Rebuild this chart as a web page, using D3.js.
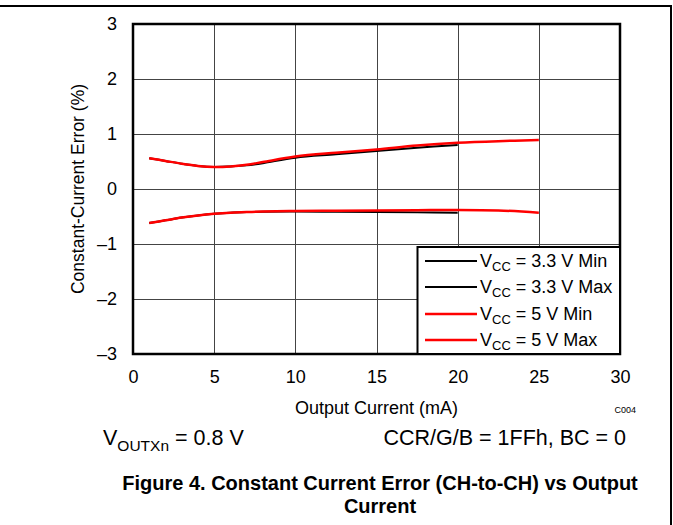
<!DOCTYPE html>
<html>
<head>
<meta charset="utf-8">
<script src="https://cdn.jsdelivr.net/npm/d3@7"></script>
<style>
  html, body { margin: 0; padding: 0; background: #fff; }
  svg { display: block; font-family: "Liberation Sans", Arial, sans-serif; }
</style>
</head>
<body>
<svg id="chart" width="673" height="525"></svg>
<script>
// Output current (mA) sample points for each curve
const current33 = [1, 2, 3, 4, 5, 6, 7, 8, 10, 12.5, 15, 17.5, 20];
const current5  = [1, 2, 3, 4, 5, 6, 7, 8, 10, 12.5, 15, 17.5, 20, 22.5, 25];

// Constant-current error (%) per series
const vcc33Min = [-0.62, -0.57, -0.52, -0.48, -0.45, -0.43, -0.42, -0.415, -0.41, -0.415, -0.42, -0.425, -0.43];
const vcc33Max = [0.56, 0.51, 0.46, 0.42, 0.40, 0.41, 0.43, 0.47, 0.57, 0.63, 0.69, 0.75, 0.80];
const vcc5Min  = [-0.62, -0.57, -0.52, -0.48, -0.45, -0.43, -0.42, -0.41, -0.40, -0.395, -0.39, -0.385, -0.38, -0.39, -0.43];
const vcc5Max  = [0.56, 0.51, 0.46, 0.42, 0.40, 0.41, 0.44, 0.49, 0.59, 0.66, 0.72, 0.79, 0.84, 0.87, 0.89];

const xTicks = [0, 5, 10, 15, 20, 25, 30];
const yTicks = [-3, -2, -1, 0, 1, 2, 3];
const yTickLabels = ["\u20133", "\u20132", "\u20131", "0", "1", "2", "3"];

const legendLabels = ["3.3 V Min", "3.3 V Max", "5 V Min", "5 V Max"];
const legendColors = ["#000", "#000", "#ff0000", "#ff0000"];

const svg = d3.select("#chart");
const plot = { left: 133, right: 620, top: 24, bottom: 354 };
const FONT = "Liberation Sans, Arial, sans-serif";

const x = d3.scaleLinear().domain([0, 30]).range([plot.left, plot.right]);
const y = d3.scaleLinear().domain([-3, 3]).range([plot.bottom, plot.top]);

// Outer figure frame (top and right edges)
svg.append("line").attr("x1", 0).attr("x2", 671).attr("y1", 6).attr("y2", 6)
  .attr("stroke", "#000").attr("stroke-width", 2);
svg.append("line").attr("x1", 671).attr("x2", 671).attr("y1", 5).attr("y2", 525)
  .attr("stroke", "#000").attr("stroke-width", 2);

// Grid lines
const grid = svg.append("g");
grid.selectAll("line.gx").data(xTicks.slice(1, -1)).join("line")
  .attr("x1", d => Math.round(x(d)) + 0.5).attr("x2", d => Math.round(x(d)) + 0.5)
  .attr("y1", plot.top).attr("y2", plot.bottom)
  .attr("stroke", "#444").attr("stroke-width", 1);
grid.selectAll("line.gy").data(yTicks.slice(1, -1)).join("line")
  .attr("y1", d => Math.round(y(d)) + 0.5).attr("y2", d => Math.round(y(d)) + 0.5)
  .attr("x1", plot.left).attr("x2", plot.right)
  .attr("stroke", "#444").attr("stroke-width", 1);

// Axis tick labels
const xAxis = d3.axisBottom(x).tickValues(xTicks).tickSize(0).tickPadding(16);
svg.append("g").attr("transform", `translate(0,${plot.bottom})`).call(xAxis)
  .attr("font-size", 18).attr("font-family", FONT)
  .call(g => g.select(".domain").remove())
  .selectAll("text").attr("fill", "#000");

const yAxis = d3.axisLeft(y).tickValues(yTicks).tickSize(0).tickPadding(16)
  .tickFormat((d, i) => yTickLabels[i]);
svg.append("g").attr("transform", `translate(${plot.left},0)`).call(yAxis)
  .attr("font-size", 18).attr("font-family", FONT)
  .call(g => g.select(".domain").remove())
  .selectAll("text").attr("fill", "#000");

// Data curves
const line = d3.line().x(d => x(d[0])).y(d => y(d[1])).curve(d3.curveCatmullRom.alpha(0.5));
const series = [
  { xs: current33, ys: vcc33Min, color: "#000", w: 2 },
  { xs: current33, ys: vcc33Max, color: "#000", w: 2 },
  { xs: current5,  ys: vcc5Min,  color: "#ff0000", w: 2.5 },
  { xs: current5,  ys: vcc5Max,  color: "#ff0000", w: 2.5 }
];
svg.append("g").selectAll("path").data(series).join("path")
  .attr("d", s => line(s.xs.map((v, i) => [v, s.ys[i]])))
  .attr("fill", "none").attr("stroke", s => s.color).attr("stroke-width", s => s.w);

// Plot border
svg.append("rect").attr("x", plot.left).attr("y", plot.top)
  .attr("width", plot.right - plot.left).attr("height", plot.bottom - plot.top)
  .attr("fill", "none").attr("stroke", "#000").attr("stroke-width", 2.5);

// Legend
const lg = svg.append("g");
lg.append("rect").attr("x", 417.5).attr("y", 247).attr("width", 202.5).attr("height", 107)
  .attr("fill", "#fff").attr("stroke", "#000").attr("stroke-width", 2);
const rowY = [261, 287, 314, 340];
legendLabels.forEach((lab, i) => {
  lg.append("line").attr("x1", 425).attr("x2", 477).attr("y1", rowY[i]).attr("y2", rowY[i])
    .attr("stroke", legendColors[i]).attr("stroke-width", i < 2 ? 2 : 2.5);
  const t = lg.append("text").attr("x", 480).attr("y", rowY[i] + 6).attr("font-size", 18).attr("fill", "#000");
  t.append("tspan").text("V");
  t.append("tspan").text("CC").attr("font-size", 13).attr("dy", 4);
  t.append("tspan").text(" = " + lab).attr("dy", -4);
});

// Axis titles
svg.append("text").attr("x", (plot.left + plot.right) / 2).attr("y", 414)
  .attr("text-anchor", "middle").attr("font-size", 18).text("Output Current (mA)");
svg.append("text").attr("transform", `translate(84,${(plot.top + plot.bottom) / 2}) rotate(-90)`)
  .attr("text-anchor", "middle").attr("font-size", 17.5).text("Constant-Current Error (%)");
svg.append("text").attr("x", 636).attr("y", 413).attr("text-anchor", "end")
  .attr("font-size", 9).text("C004");

// Test conditions
const cond = svg.append("text").attr("x", 103).attr("y", 445).attr("font-size", 21.5);
cond.append("tspan").text("V");
cond.append("tspan").text("OUTXn").attr("font-size", 15.5).attr("dy", 6);
cond.append("tspan").text(" = 0.8 V").attr("dy", -6);
svg.append("text").attr("x", 626).attr("y", 445).attr("text-anchor", "end")
  .attr("font-size", 21.5).text("CCR/G/B = 1FFh, BC = 0");

// Figure caption
svg.append("text").attr("x", 380).attr("y", 490).attr("text-anchor", "middle")
  .attr("font-size", 20).attr("font-weight", "bold")
  .text("Figure 4. Constant Current Error (CH-to-CH) vs Output");
svg.append("text").attr("x", 380).attr("y", 513).attr("text-anchor", "middle")
  .attr("font-size", 20).attr("font-weight", "bold").text("Current");
</script>
</body>
</html>
